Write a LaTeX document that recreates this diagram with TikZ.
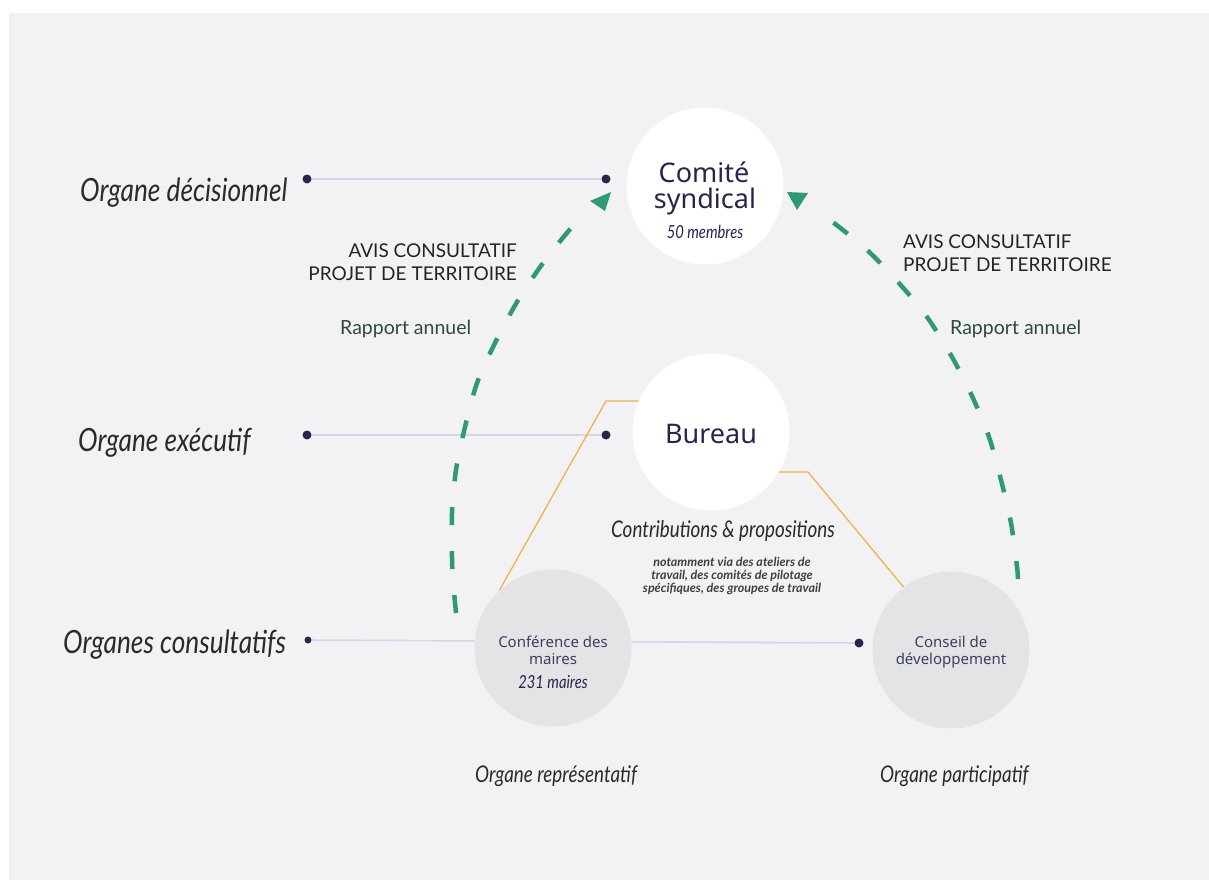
\documentclass[tikz,border=0pt]{standalone}
\usepackage{fontspec}
\setmainfont{Noto Sans}
\newfontfamily\labfont{Lato}
\newfontfamily\handfont{Lato}[FakeStretch=0.82]
\definecolor{bggrey}{HTML}{F2F2F4}
\definecolor{circgrey}{HTML}{E4E4E6}
\definecolor{navy}{HTML}{24264F}
\definecolor{slate}{HTML}{3B4060}
\definecolor{lav}{HTML}{D5D5EA}
\definecolor{gold}{HTML}{EFB443}
\definecolor{arrowgreen}{HTML}{2E9A70}
\definecolor{darkink}{HTML}{2A2A2A}
\definecolor{avisink}{HTML}{1E281F}
\definecolor{rapink}{HTML}{2C4A3C}
\pgfdeclarelayer{bg}
\pgfdeclarelayer{lines}
\pgfsetlayers{bg,lines,main}
\begin{document}
\begin{tikzpicture}[x=1pt,y=-1pt,
  bigcirc/.style={circle,minimum size=157pt,inner sep=0pt},
  dot/.style={circle,fill=navy,minimum size=9pt,inner sep=0pt},
  txt/.style={inner sep=0pt,anchor=base},
  link/.style={draw=lav,line width=1.6pt},
  goldline/.style={draw=gold,line width=1.3pt},
  flow/.style={draw=arrowgreen,line width=4.5pt,dash pattern=on 18pt off 26pt},
  head/.style={fill=arrowgreen},
  hand/.style={txt,text=darkink,font=\handfont\itshape\fontsize{32}{36}\selectfont},
  handsmall/.style={txt,text=darkink,font=\handfont\itshape\fontsize{23}{26}\selectfont},
  big/.style={txt,text=navy,font=\fontsize{27}{30}\selectfont},
  mid/.style={txt,text=slate,font=\fontsize{15}{18}\selectfont},
  count/.style={txt,text=navy,font=\handfont\itshape\fontsize{18}{20}\selectfont},
  avis/.style={txt,text=avisink,font=\labfont\fontsize{19}{22}\selectfont},
  rap/.style={txt,text=rapink,font=\labfont\fontsize{19.5}{22}\selectfont},
  note/.style={txt,text=darkink!90,font=\labfont\bfseries\itshape\fontsize{12.5}{14}\selectfont}]
\useasboundingbox (0,0) rectangle (1209,883);
\begin{pgfonlayer}{bg}
  \fill[white] (0,0) rectangle (1209,883);
  \fill[bggrey] (9,13) rectangle (1209,880);
\end{pgfonlayer}

% circles
\node[bigcirc,fill=white] (cs) at (705,186) {};
\node[bigcirc,fill=white] (bu) at (711,432) {};
\node[bigcirc,fill=circgrey] (cm) at (553,648) {};
\node[bigcirc,fill=circgrey] (cd) at (951,650) {};

% circle texts
\node[big] (t1) at (704,182) {Comité};
\node[big] (t2) at (705,208) {syndical};
\node[count] (t3) at (705,238) {50 membres};
\node[big] (t4) at (711,443) {Bureau};
\node[mid] (t5) at (553,647) {Conférence des};
\node[mid] (t6) at (553,664) {maires};
\node[count] (t7) at (553,688) {231 maires};
\node[mid] (t8) at (951,647) {Conseil de};
\node[mid] (t9) at (951,664) {développement};

% left labels
\node[hand,anchor=base west] (l1) at (80,201) {Organe décisionnel};
\node[hand,anchor=base west] (l2) at (78,451) {Organe exécutif};
\node[hand,anchor=base west] (l3) at (63,653) {Organes consultatifs};

% bottom labels
\node[handsmall,anchor=base west] (b1) at (475,782) {Organe représentatif};
\node[handsmall,anchor=base west] (b2) at (880,782) {Organe participatif};

% arrow labels
\node[avis,anchor=base east] (a1) at (517,257) {AVIS CONSULTATIF};
\node[avis,anchor=base east] (a2) at (517,280) {PROJET DE TERRITOIRE};
\node[avis,anchor=base west] (a3) at (903,248) {AVIS CONSULTATIF};
\node[avis,anchor=base west] (a4) at (903,271) {PROJET DE TERRITOIRE};
\node[rap,anchor=base west] (r1) at (340,334) {Rapport annuel};
\node[rap,anchor=base west] (r2) at (950,334) {Rapport annuel};

% contributions
\node[handsmall] (c1) at (723,537) {Contributions \& propositions};
\node[note] (n1) at (732,566) {notamment via des ateliers de};
\node[note] (n2) at (732,579) {travail, des comités de pilotage};
\node[note] (n3) at (732,592) {spécifiques, des groupes de travail};

% dots
\node[dot] (dl1) at (307,179) {};
\node[dot] (dr1) at (606,179) {};
\node[dot] (dl2) at (307,435) {};
\node[dot] (dr2) at (606,435) {};
\node[dot,minimum size=7pt] (dl3) at (308,640) {};
\node[dot] (dr3) at (859,643) {};

\coordinate (o1) at (606,401);
\coordinate (o2) at (808,472);

\begin{pgfonlayer}{lines}
  \draw[link] (dl1) -- (dr1);
  \draw[link] (dl2) -- (dr2);
  \draw[link] (dl3) -- (dr3);
  \draw[goldline] (cm.133) -- (o1) -- (o1 -| bu.center);
  \draw[goldline] (o2 -| bu.center) -- (o2) -- (cd.127);
  \draw[flow] plot[smooth] coordinates {(456,613) (453,580) (452,558) (452,513) (456,470) (465,427) (477,383) (495,343) (517,302) (543,263) (572,227) (588,212)};
  \draw[flow] plot[smooth] coordinates {(1018,579) (1017,567) (1011,523) (1001,480) (989,437) (972,396) (952,357) (927,317) (898,282) (866,249) (830,220) (815,210)};
  \fill[head] (590,201) -- (611,192) -- (605,211) -- cycle;
  \fill[head] (787,192) -- (808,193) -- (797,210) -- cycle;
\end{pgfonlayer}
\end{tikzpicture}
\end{document}
